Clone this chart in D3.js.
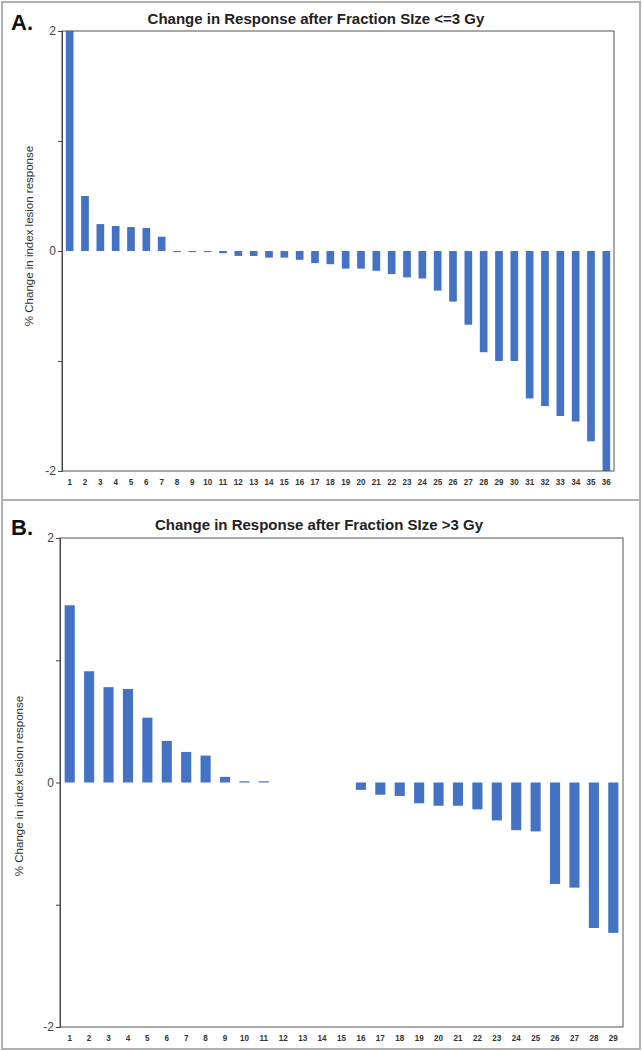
<!DOCTYPE html>
<html>
<head>
<meta charset="utf-8">
<script src="https://cdn.jsdelivr.net/npm/d3@7"></script>
<style>
  body { margin: 0; background: #fff; }
  svg { display: block; font-family: "Liberation Sans", Arial, sans-serif; }
</style>
</head>
<body>
<div id="chart"></div>
<script>
// Panel A: fraction size <= 3 Gy
const patientsA = d3.range(1, 37).map(String);
const changeA = [2.0, 0.50, 0.245, 0.227, 0.218, 0.209, 0.13, -0.01, -0.01, -0.01, -0.02, -0.045,
  -0.045, -0.06, -0.06, -0.08, -0.11, -0.12, -0.16, -0.16, -0.18, -0.21, -0.24, -0.25,
  -0.36, -0.46, -0.67, -0.92, -1.00, -1.00, -1.34, -1.41, -1.50, -1.55, -1.73, -2.0];

// Panel B: fraction size > 3 Gy
const patientsB = d3.range(1, 30).map(String);
const changeB = [1.45, 0.91, 0.78, 0.765, 0.53, 0.34, 0.25, 0.22, 0.046, 0.01, 0.01, 0, 0, 0, 0,
  -0.06, -0.10, -0.11, -0.17, -0.19, -0.19, -0.22, -0.31, -0.39, -0.40, -0.83, -0.86, -1.19, -1.23];

const yTicks = [-2, -1, 0, 1, 2];
const yLabels = { "-2": "-2", "0": "0", "2": "2" };

const width = 642;
const height = 1051;
const barColor = '#4472c4';

const svg = d3.select('#chart')
  .append('svg')
  .attr('width', width)
  .attr('height', height);

// outer frame and divider
svg.append('rect')
  .attr('x', 2).attr('y', 2)
  .attr('width', width - 4).attr('height', height - 4)
  .attr('fill', 'none').attr('stroke', '#b0b0b0').attr('stroke-width', 2);
svg.append('line')
  .attr('x1', 2).attr('x2', width - 2)
  .attr('y1', 500).attr('y2', 500)
  .attr('stroke', '#b0b0b0').attr('stroke-width', 2);

function drawPanel(opts) {
  const { letter, title, cats, vals, left, right, top, bottom, pad, letterY, titleX, titleY, ylabX, ylabY } = opts;

  const x = d3.scaleBand().domain(cats).range([left, right]).paddingInner(pad).paddingOuter(pad / 2);
  const y = d3.scaleLinear().domain([-2, 2]).range([bottom, top]);

  const g = svg.append('g');

  // bars
  g.selectAll('rect.bar')
    .data(vals)
    .enter()
    .append('rect')
    .attr('class', 'bar')
    .attr('x', (d, i) => x(cats[i]))
    .attr('width', x.bandwidth())
    .attr('y', d => y(Math.max(0, d)))
    .attr('height', d => Math.abs(y(d) - y(0)))
    .attr('fill', barColor);

  // plot frame
  g.append('rect')
    .attr('x', left).attr('y', top)
    .attr('width', right - left).attr('height', bottom - top)
    .attr('fill', 'none').attr('stroke', '#555').attr('stroke-width', 1);

  // y axis
  const yAxis = d3.axisLeft(y)
    .tickValues(yTicks)
    .tickSize(4)
    .tickPadding(2)
    .tickFormat(d => yLabels[d] || '');
  g.append('g')
    .attr('transform', `translate(${left},0)`)
    .call(yAxis)
    .call(s => s.select('.domain').attr('stroke', '#444'))
    .call(s => s.selectAll('.tick line').attr('stroke', '#444'))
    .call(s => s.selectAll('.tick text').attr('fill', '#444').attr('font-size', 12));

  // x axis labels, slightly condensed
  const xAxis = d3.axisBottom(x).tickSize(0).tickPadding(7);
  g.append('g')
    .attr('transform', `translate(0,${bottom})`)
    .call(xAxis)
    .call(s => s.select('.domain').remove())
    .call(s => s.selectAll('.tick text')
      .attr('fill', '#333')
      .attr('font-size', 9.5)
      .attr('font-weight', 'bold')
      .attr('transform', 'scale(0.85,1)'));

  // title
  svg.append('text')
    .attr('x', titleX)
    .attr('y', titleY)
    .attr('text-anchor', 'middle')
    .attr('font-size', 15)
    .attr('font-weight', 'bold')
    .attr('fill', '#222')
    .text(title);

  // panel letter
  svg.append('text')
    .attr('x', 11)
    .attr('y', letterY)
    .attr('font-size', 22)
    .attr('font-weight', 'bold')
    .attr('fill', '#111')
    .text(letter);

  // y axis label
  svg.append('text')
    .attr('transform', `translate(${ylabX},${ylabY}) rotate(-90)`)
    .attr('text-anchor', 'middle')
    .attr('font-size', 11.5)
    .attr('fill', '#333')
    .text('% Change in index lesion response');
}

drawPanel({
  letter: 'A.', title: 'Change in Response after Fraction SIze <=3 Gy',
  cats: patientsA, vals: changeA,
  left: 62, right: 614, top: 31, bottom: 471, pad: 0.5,
  letterY: 30, titleX: 316, titleY: 24, ylabX: 33, ylabY: 236
});

drawPanel({
  letter: 'B.', title: 'Change in Response after Fraction SIze >3 Gy',
  cats: patientsB, vals: changeB,
  left: 60, right: 623, top: 538, bottom: 1027, pad: 0.48,
  letterY: 535, titleX: 319, titleY: 530, ylabX: 23, ylabY: 786
});
</script>
</body>
</html>
